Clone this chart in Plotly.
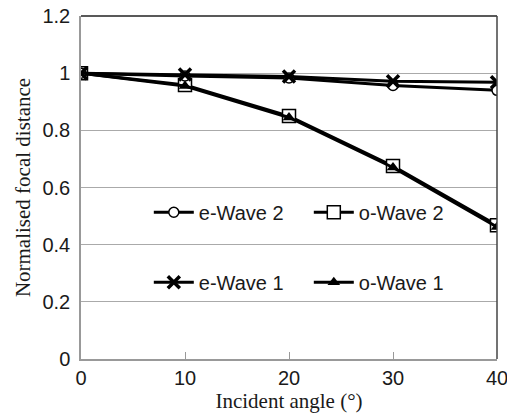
import plotly.graph_objects as go

# Incident angle (degrees)
angles = [0, 10, 20, 30, 40]

# Normalised focal distance for each wave
e_wave2 = [1.0, 0.99, 0.983, 0.957, 0.94]
o_wave2 = [1.0, 0.959, 0.85, 0.675, 0.468]
e_wave1 = [1.0, 0.995, 0.988, 0.972, 0.968]
o_wave1 = [1.0, 0.955, 0.845, 0.67, 0.462]

y_ticks = [0, 0.2, 0.4, 0.6, 0.8, 1.0, 1.2]
y_tick_text = ["0", "0.2", "0.4", "0.6", "0.8", "1", "1.2"]
x_ticks = [0, 10, 20, 30, 40]

SANS = "Liberation Sans, Arial, sans-serif"
SERIF = "Liberation Serif, Times New Roman, serif"
INK = "#1a1a1a"

fig = go.Figure()

line = dict(color="black", width=3)

fig.add_trace(go.Scatter(
    x=angles, y=o_wave2, name="o-Wave 2", mode="lines+markers", line=line,
    marker=dict(symbol="square", size=13, color="white",
                line=dict(color="black", width=1.5)),
    legend="legend", legendrank=2,
))
fig.add_trace(go.Scatter(
    x=angles, y=o_wave1, name="o-Wave 1", mode="lines+markers", line=line,
    marker=dict(symbol="triangle-up", size=11, color="black"),
    legend="legend2", legendrank=2,
))
fig.add_trace(go.Scatter(
    x=angles, y=e_wave2, name="e-Wave 2", mode="lines+markers", line=line,
    marker=dict(symbol="circle", size=10, color="white",
                line=dict(color="black", width=1.5)),
    legend="legend", legendrank=1,
))
fig.add_trace(go.Scatter(
    x=angles, y=e_wave1, name="e-Wave 1", mode="lines+markers", line=line,
    marker=dict(symbol="x-thin", size=12, color="black",
                line=dict(color="black", width=3.5)),
    legend="legend2", legendrank=1,
))

legend_common = dict(
    orientation="h",
    xanchor="left",
    yanchor="middle",
    x=0.163,
    bgcolor="rgba(0,0,0,0)",
    font=dict(family=SANS, size=20, color=INK),
    entrywidth=105,
    entrywidthmode="pixels",
    traceorder="normal",
    itemwidth=40,
)

fig.update_layout(
    width=507,
    height=418,
    margin=dict(l=81, r=10, t=16, b=59, autoexpand=False),
    paper_bgcolor="white",
    plot_bgcolor="white",
    showlegend=True,
    legend=dict(**legend_common, y=0.428),
    legend2=dict(**legend_common, y=0.224),
    xaxis=dict(
        range=[0, 40],
        tickvals=x_ticks,
        ticks="inside",
        ticklen=7,
        tickcolor="#999",
        ticklabeloverflow="allow",
        showgrid=False,
        zeroline=False,
        showline=True,
        linecolor="#999",
        linewidth=1.5,
        tickfont=dict(family=SANS, size=20, color=INK),
        title=dict(text="Incident angle (°)",
                   font=dict(family=SERIF, size=21, color=INK),
                   standoff=4),
    ),
    yaxis=dict(
        range=[0, 1.2],
        tickvals=y_ticks,
        ticktext=y_tick_text,
        ticks="",
        ticklabelstandoff=5,
        showgrid=True,
        gridcolor="#aaa",
        gridwidth=1,
        zeroline=False,
        showline=True,
        linecolor="#999",
        linewidth=1.5,
        tickfont=dict(family=SANS, size=20, color=INK),
        title=dict(text="Normalised focal distance",
                   font=dict(family=SERIF, size=21, color=INK),
                   standoff=6),
    ),
    shapes=[
        dict(type="line", xref="paper", yref="paper", x0=0, x1=1, y0=1, y1=1,
             line=dict(color="#222", width=1.5)),
        dict(type="line", xref="paper", yref="paper", x0=1, x1=1, y0=0, y1=1,
             line=dict(color="#444", width=1.5)),
    ],
)

fig.write_html("out.html")
